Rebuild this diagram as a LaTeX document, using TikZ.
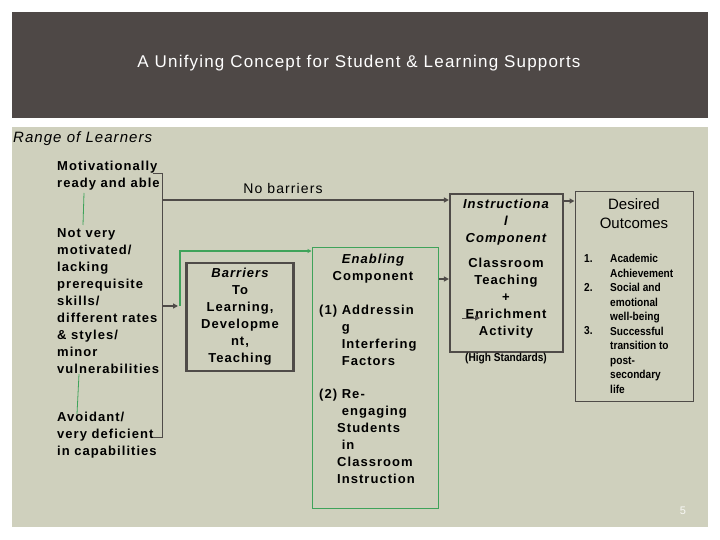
\documentclass[tikz,border=0pt]{standalone}
\usepackage{fontspec}
\setmainfont{Liberation Sans}
\newfontfamily\spc[LetterSpace=8]{Liberation Sans}
\newfontfamily\ttl[LetterSpace=7]{Liberation Sans}
\newfontfamily\nrw[FakeStretch=0.88]{Liberation Sans}
\usetikzlibrary{arrows.meta}
\definecolor{hdr}{HTML}{4E4846}
\definecolor{panel}{HTML}{CFD0BD}
\definecolor{dk}{HTML}{4F4B48}
\definecolor{grn}{HTML}{3FA35A}
\begin{document}
\begin{tikzpicture}[x=1pt,y=-1pt,
  lt/.style={inner sep=0pt,anchor=north west,align=left,font=\spc\bfseries\fontsize{13}{17}\selectfont},
  ct/.style={inner sep=0pt,align=center,font=\spc\bfseries\fontsize{13}{17}\selectfont},
  gbox/.style={draw=dk,line width=2.2pt},
  arr/.style={draw=dk,line width=1.5pt,-{Triangle[length=5pt,width=5pt]}},
  garr/.style={draw=grn,line width=1.2pt,-{Triangle[length=4pt,width=4pt]}}]
\useasboundingbox (0,0) rectangle (720,540);
\fill[white] (0,0) rectangle (720,540);
\fill[hdr] (12,12) rectangle (708,118);
\fill[panel] (12,127) rectangle (708,527);
\node[inner sep=0pt,text=white,font=\ttl\fontsize{17}{20}\selectfont] (title) at (359,63) {A Unifying Concept for Student \& Learning Supports};
\node[inner sep=0pt,anchor=west,font=\ttl\itshape\fontsize{15}{18}\selectfont] (range) at (13,139) {Range of Learners};
\node[lt] (mot) at (57,161) {Motivationally\\ready and able};
\node[lt] (notv) at (57,228) {Not very\\motivated/\\lacking\\prerequisite\\skills/\\different rates\\\& styles/\\minor\\vulnerabilities};
\node[lt] (avoid) at (57,412) {Avoidant/\\very deficient\\in capabilities};
% bracket
\coordinate (bt) at (162,174); \coordinate (bb) at (162,437);
\draw[dk,line width=1pt] (153,174) -- (bt) -- (bb) -- (153,437);
\draw[grn,line width=0.8pt] (84,193) -- (83,225);
\draw[grn,line width=0.8pt] (79,374) -- (77,414);
% boxes
\node[gbox,minimum width=107pt,minimum height=108pt,inner sep=0pt,ct] (barr) at (240,317) {\itshape Barriers\\To\\Learning,\\Developme\\nt,\\Teaching};
\node[draw=grn,line width=1pt,minimum width=126pt,minimum height=261pt,inner sep=0pt] (enab) at (375,377.5) {};
\node[ct,anchor=north] (enabt) at (373,254) {\itshape Enabling\\Component};
\node[lt] (e1) at (319,305) {(1) Addressin\\\hphantom{(1) }g\\\hphantom{(1) }Interfering\\\hphantom{(1) }Factors};
\node[lt] (e2) at (319,389) {(2) Re-\\\hphantom{(2) }engaging\\\hphantom{(2)}Students\\\hphantom{(2) }in\\\hphantom{(2)}Classroom\\\hphantom{(2)}Instruction};
\node[gbox,minimum width=113pt,minimum height=158pt,inner sep=0pt] (instr) at (506.5,273) {};
\node[ct,anchor=north] (instrt) at (506,199) {\itshape Instructiona\\\itshape l\\\itshape Component\\[8pt]Classroom\\Teaching\\+\\Enrichment\\Activity};
\node[inner sep=0pt,font=\nrw\bfseries\fontsize{11.5}{13}\selectfont] (hs) at (506,359) {(High Standards)};
\node[draw=dk,line width=1pt,minimum width=118pt,minimum height=209pt,inner sep=0pt] (des) at (634,296.5) {};
\node[inner sep=0pt,align=center,font=\fontsize{15}{19}\selectfont] (dest) at (634,214) {Desired\\Outcomes};
\node[inner sep=0pt,anchor=north west,align=left,font=\nrw\bfseries\fontsize{11.5}{14.5}\selectfont] (dlist) at (584,254) {1.\\[14.5pt]2.\\[29pt]3.};
\node[inner sep=0pt,anchor=north west,align=left,font=\nrw\bfseries\fontsize{11.5}{14.5}\selectfont] (dlist2) at (610,254) {Academic\\Achievement\\Social and\\emotional\\well-being\\Successful\\transition to\\post-\\secondary\\life};
\node[inner sep=0pt,text=white!85!panel,font=\fontsize{11}{13}\selectfont] (pg) at (683,511) {5};
% connectors
\node[inner sep=0pt,font=\spc\fontsize{14}{17}\selectfont] (nob) at (283,188) {No barriers};
\coordinate (nb0) at (162,200);
\draw[arr] (nb0) -- (instr.west |- nb0);
\coordinate (m0) at (162,306); \coordinate (m1) at (178,306);
\draw[arr,line width=1.2pt] (m0) -- (m1);
\draw[garr] (180,306) -- (180,251) -- (enab.west |- 0,251);
\draw[arr] (enab.east |- 0,279) -- (instr.west |- 0,279);
\draw[arr] (instr.east |- 0,201) -- (des.west |- 0,201);
\coordinate (s0) at (462,318); \coordinate (s1) at (480,318);
\draw[arr,line width=1pt] (s0) -- (s1);
\end{tikzpicture}
\end{document}
